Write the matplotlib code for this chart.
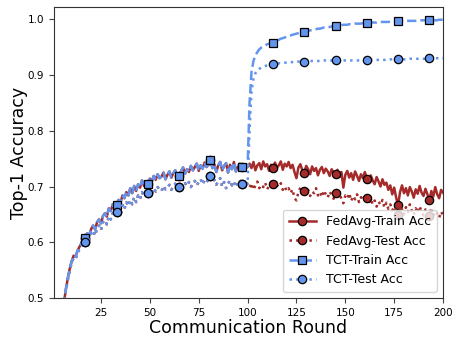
import numpy as np
import matplotlib
matplotlib.use("Agg")
import matplotlib.pyplot as plt

rounds = np.arange(1, 201)

# rounds 1-100: both methods run the same FedAvg stage
stage1_train = [
    0.21, 0.31, 0.38, 0.43, 0.465, 0.49, 0.515, 0.535, 0.552, 0.566,
    0.576, 0.574, 0.585, 0.592, 0.598, 0.604, 0.608, 0.616, 0.612, 0.624,
    0.630, 0.623, 0.636, 0.641, 0.634, 0.647, 0.652, 0.646, 0.661, 0.656,
    0.668, 0.661, 0.666, 0.676, 0.671, 0.684, 0.679, 0.690, 0.684, 0.697,
    0.688, 0.701, 0.692, 0.704, 0.698, 0.711, 0.701, 0.707, 0.705, 0.714,
    0.709, 0.719, 0.712, 0.722, 0.715, 0.718, 0.725, 0.713, 0.721, 0.727,
    0.716, 0.724, 0.729, 0.720, 0.718, 0.728, 0.734, 0.723, 0.731, 0.726,
    0.737, 0.729, 0.735, 0.741, 0.728, 0.738, 0.732, 0.743, 0.735, 0.739,
    0.747, 0.733, 0.740, 0.726, 0.738, 0.744, 0.729, 0.737, 0.742, 0.725,
    0.739, 0.731, 0.744, 0.727, 0.736, 0.741, 0.735, 0.729, 0.738, 0.735,
]
stage1_test = [
    0.20, 0.30, 0.37, 0.42, 0.46, 0.487, 0.512, 0.532, 0.549, 0.563,
    0.572, 0.570, 0.581, 0.588, 0.594, 0.598, 0.600, 0.609, 0.604, 0.616,
    0.621, 0.612, 0.626, 0.630, 0.622, 0.636, 0.640, 0.632, 0.647, 0.641,
    0.652, 0.646, 0.655, 0.661, 0.652, 0.667, 0.660, 0.672, 0.665, 0.676,
    0.668, 0.681, 0.672, 0.684, 0.678, 0.690, 0.683, 0.692, 0.689, 0.694,
    0.688, 0.697, 0.691, 0.699, 0.694, 0.692, 0.701, 0.695, 0.698, 0.703,
    0.694, 0.700, 0.705, 0.697, 0.700, 0.704, 0.698, 0.706, 0.701, 0.708,
    0.699, 0.705, 0.710, 0.702, 0.708, 0.713, 0.704, 0.711, 0.707, 0.714,
    0.718, 0.709, 0.712, 0.703, 0.710, 0.715, 0.700, 0.708, 0.697, 0.705,
    0.711, 0.702, 0.708, 0.699, 0.706, 0.712, 0.705, 0.701, 0.709, 0.704,
]

# rounds 101-200
fedavg_train_2 = [
    0.741, 0.733, 0.744, 0.729, 0.738, 0.742, 0.731, 0.745, 0.736, 0.740,
    0.728, 0.739, 0.733, 0.743, 0.734, 0.738, 0.745, 0.730, 0.741, 0.736,
    0.744, 0.733, 0.739, 0.726, 0.715, 0.734, 0.740, 0.729, 0.725, 0.737,
    0.731, 0.722, 0.736, 0.728, 0.733, 0.720, 0.730, 0.735, 0.724, 0.732,
    0.727, 0.719, 0.731, 0.725, 0.723, 0.730, 0.717, 0.726, 0.698, 0.721,
    0.728, 0.716, 0.724, 0.712, 0.727, 0.719, 0.710, 0.722, 0.715, 0.726,
    0.714, 0.708, 0.720, 0.711, 0.704, 0.717, 0.709, 0.700, 0.713, 0.703,
    0.707, 0.694, 0.702, 0.686, 0.698, 0.680, 0.667, 0.690, 0.702, 0.688,
    0.697, 0.684, 0.699, 0.691, 0.680, 0.695, 0.687, 0.701, 0.689, 0.683,
    0.696, 0.686, 0.675, 0.692, 0.682, 0.699, 0.686, 0.679, 0.694, 0.689,
]
fedavg_test_2 = [
    0.698, 0.706, 0.694, 0.702, 0.709, 0.697, 0.703, 0.699, 0.707, 0.695,
    0.701, 0.708, 0.704, 0.696, 0.703, 0.699, 0.706, 0.694, 0.700, 0.692,
    0.697, 0.688, 0.695, 0.679, 0.675, 0.690, 0.698, 0.687, 0.692, 0.686,
    0.694, 0.683, 0.691, 0.688, 0.697, 0.684, 0.690, 0.681, 0.693, 0.686,
    0.680, 0.691, 0.684, 0.678, 0.688, 0.682, 0.690, 0.677, 0.670, 0.684,
    0.679, 0.688, 0.674, 0.683, 0.677, 0.686, 0.672, 0.681, 0.675, 0.684,
    0.679, 0.670, 0.678, 0.668, 0.675, 0.664, 0.673, 0.667, 0.676, 0.662,
    0.671, 0.660, 0.668, 0.657, 0.664, 0.652, 0.649, 0.666, 0.659, 0.650,
    0.663, 0.654, 0.668, 0.657, 0.649, 0.661, 0.653, 0.665, 0.655, 0.648,
    0.659, 0.651, 0.648, 0.662, 0.647, 0.656, 0.650, 0.644, 0.655, 0.648,
]
tct_train_2 = [
    0.850, 0.905, 0.925, 0.935, 0.941, 0.946, 0.949, 0.951, 0.953, 0.955,
    0.956, 0.957, 0.958, 0.960, 0.962, 0.963, 0.965, 0.966, 0.967, 0.969,
    0.970, 0.971, 0.972, 0.973, 0.974, 0.975, 0.976, 0.976, 0.977, 0.978,
    0.979, 0.980, 0.980, 0.981, 0.982, 0.983, 0.983, 0.984, 0.985, 0.985,
    0.986, 0.986, 0.987, 0.987, 0.988, 0.988, 0.989, 0.989, 0.990, 0.990,
    0.990, 0.991, 0.991, 0.991, 0.992, 0.992, 0.992, 0.992, 0.993, 0.993,
    0.993, 0.993, 0.994, 0.994, 0.994, 0.994, 0.995, 0.995, 0.995, 0.995,
    0.995, 0.995, 0.996, 0.996, 0.996, 0.996, 0.996, 0.996, 0.997, 0.997,
    0.997, 0.997, 0.997, 0.997, 0.997, 0.997, 0.998, 0.998, 0.998, 0.998,
    0.998, 0.998, 0.998, 0.998, 0.998, 0.998, 0.998, 0.999, 0.999, 0.999,
]
tct_test_2 = [
    0.800, 0.870, 0.893, 0.903, 0.908, 0.911, 0.913, 0.915, 0.916, 0.917,
    0.918, 0.918, 0.919, 0.920, 0.920, 0.921, 0.921, 0.922, 0.922, 0.922,
    0.923, 0.923, 0.923, 0.923, 0.924, 0.924, 0.924, 0.924, 0.924, 0.924,
    0.925, 0.925, 0.925, 0.925, 0.925, 0.925, 0.925, 0.925, 0.926, 0.926,
    0.926, 0.926, 0.926, 0.926, 0.926, 0.926, 0.926, 0.926, 0.926, 0.926,
    0.926, 0.926, 0.926, 0.926, 0.926, 0.926, 0.926, 0.926, 0.926, 0.926,
    0.926, 0.926, 0.927, 0.927, 0.927, 0.927, 0.927, 0.927, 0.927, 0.927,
    0.927, 0.927, 0.928, 0.928, 0.928, 0.928, 0.928, 0.928, 0.928, 0.928,
    0.928, 0.928, 0.929, 0.929, 0.929, 0.929, 0.929, 0.929, 0.929, 0.929,
    0.929, 0.930, 0.930, 0.930, 0.930, 0.930, 0.930, 0.930, 0.930, 0.930,
]

fedavg_train = np.array(stage1_train + fedavg_train_2)
fedavg_test = np.array(stage1_test + fedavg_test_2)
tct_train = np.array(stage1_train + tct_train_2)
tct_test = np.array(stage1_test + tct_test_2)

red = "#a52a2a"
blue = "#6495ed"
mk = dict(markevery=(16, 16), markersize=6, markeredgecolor="black",
          markeredgewidth=0.9, linewidth=1.8)

fig = plt.figure(figsize=(4.62, 3.45), dpi=100)
ax = fig.add_axes([0.117, 0.136, 0.842, 0.844])

ax.plot(rounds, fedavg_train, "-", color=red, marker="o", label="FedAvg-Train Acc", **mk)
ax.plot(rounds, fedavg_test, ":", color=red, marker="o", label="FedAvg-Test Acc", **mk)
ax.plot(rounds, tct_train, "--", color=blue, marker="s", label="TCT-Train Acc", **mk)
ax.plot(rounds, tct_test, ":", color=blue, marker="o", label="TCT-Test Acc", **mk)

ax.set_xlim(1, 200)
ax.set_ylim(0.5, 1.022)
ax.set_xticks([25, 50, 75, 100, 125, 150, 175, 200])
ax.set_yticks([0.5, 0.6, 0.7, 0.8, 0.9, 1.0])
ax.tick_params(labelsize=7.5, length=3.5, color="#444444")
for s in ax.spines.values():
    s.set_color("#333333")

ax.set_xlabel("Communication Round", fontsize=12.5, labelpad=1)
ax.set_ylabel("Top-1 Accuracy", fontsize=12.5, labelpad=0)
ax.legend(loc="lower right", fontsize=9, handlelength=2.2,
          borderpad=0.45, labelspacing=0.5)

fig.savefig("out.png", dpi=100)
